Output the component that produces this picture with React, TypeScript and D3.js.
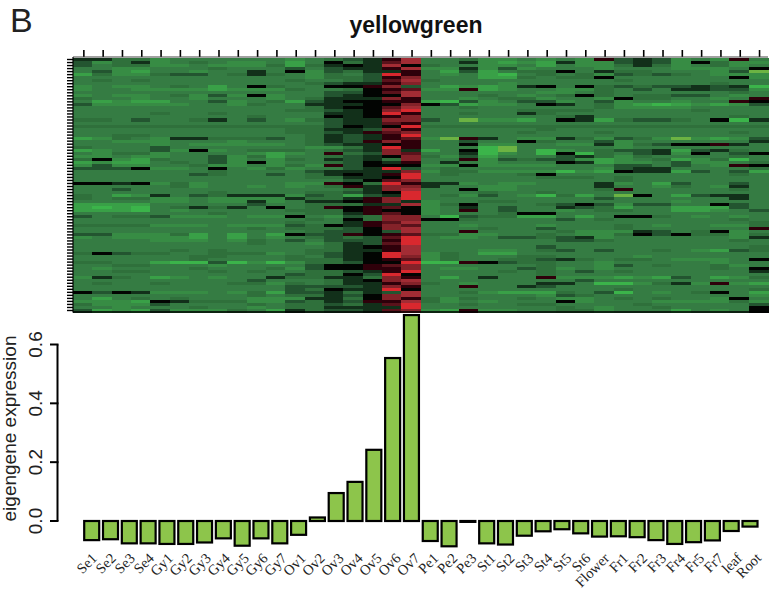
import React from "react";
import * as d3 from "d3";

const categories = ["Se1","Se2","Se3","Se4","Gy1","Gy2","Gy3","Gy4","Gy5","Gy6","Gy7","Ov1","Ov2","Ov3","Ov4","Ov5","Ov6","Ov7","Pe1","Pe2","Pe3","St1","St2","St3","St4","St5","St6","Flower","Fr1","Fr2","Fr3","Fr4","Fr5","Fr7","leaf","Root"];
const eigengene = [-0.065,-0.062,-0.076,-0.076,-0.078,-0.078,-0.073,-0.059,-0.084,-0.059,-0.076,-0.047,0.012,0.095,0.133,0.242,0.554,0.70,-0.068,-0.086,-0.003,-0.076,-0.08,-0.05,-0.035,-0.028,-0.042,-0.053,-0.052,-0.055,-0.065,-0.078,-0.072,-0.066,-0.034,-0.019];
const yTicks = [0, 0.2, 0.4, 0.6];

// heat levels per row, one character per sample
const heatLeft = ["113354444445","253154345546","243355455536","445544434442","425644544140","635532243134","444444444444","434344444443","444444444444","545543464034","544555565553","444444444444","545543525054","344544544454","465664425436","255555445344","444444444444","444444444443","444434434444","444444444344","334244314245","444444444444","333333333333","444444444443","444444444443","443344444444","653451133324","445554445444","444454555554","344424444444","654425054333","453354444565","554554425364","305634425453","656643425054","525544355453","222055404535","444444434444","444444234424","444444444444","444444444444","001053544445","444443544545","442444444444","444444434444","346514231115","343355455551","444455455154","666644444244","676743131404","666745444443","444444434444","243325554550","444444444444","444444444443","333355545552","444444444343","444444444444","225553646460","545555646454","444455545342","444444444344","444444444444","444443434444","302334433354","444444334443","444444344443","334467727575","443344454444","454444344435","443344434344","444444444442","513465454413","444444444244","434434443353","444444444442","444444444442","020155545362","444444444343","464343444555","555601333552","355524444343","445444344543","265625553461"];
const heatMiddle = ["4321ad443554","4031bd441565","3101d0344554","4211ad551525","52311a462643","5342ea454674","5332ac444663","4432bd344444","3211ac444454","400ac2465651","4430ab55a654","4220bd444444","42100d444345","3111ca445433","2100aa672542","11100c026554","3100bd443444","3210ce444443","4110ea443441","4010ac444444","3211cc248556","4211ba444444","32010e333333","3112ca444444","321abc444443","3121ae444444","3121ab58a145","312aca442440","32110a440554","5531ea444784","4321c1640784","4a32cb441754","43210c352644","41213c44a523","43201a414544","5a2000550555","4421e2434444","21111c533555","3101ae434443","33110e444444","4420bc444444","5a03ea115455","43a1cc144554","4431cd440554","33210e444344","23621e435245","331ace444444","110ac1544334","33311d530444","3a0ab0541424","330a0054a424","331ab0544430","4523cc472336","3403cc003444","441abd444444","301acb445444","3320cd444344","32202d44a444","22a0ab335544","3232be455422","4222ae444444","5312be444444","4310ad444444","3311ad444554","3210ed534664","4210ec534443","3310ab534433","33200e77a023","200abc444444","200aac455442","3321ae444434","3302e0444444","3113ca464144","4310cd444444","4311ac345444","2221ca44a441","3011e0444444","21312d443566","3120cd444444","1130ca353443","312aad354544","3231be443443","31111e444444","3221bc56a554"];
const heatRight = ["545a212545a4","615521250355","645531354354","444544455540","304133444528","343523234555","433044444405","444434444444","444444444344","040323221217","455342411225","554344444434","430343322454","54450334454a","2542544544a0","014356765652","444355554444","333444443444","344444444444","431444444434","401632234071","444444444444","333333333333","344444444444","444344444434","444444444444","513523585652","344254444441","455153200a14","444454444444","754322162134","707342150420","421353444434","225654365374","401655425543","5444224245a0","444521144443","575601162426","044444444434","333434444444","444434444444","444154624424","444144534514","4443a4444434","344444444444","736480462114","444244444414","444444454444","320252244024","412364466624","454334466542","044444444444","646400345454","424344444434","444444444443","544434544553","24443444444a","435551243054","345530203353","321544444451","422344444434","444444444444","244444444443","324244345623","444444444444","344445444444","213433455540","344544444544","344524344354","354544444340","342434444441","344444444444","a55565624653","442444444444","114775315a56","244444444444","444434444443","634274543046","523444444445","455434344504","405444555535","344443444442","434544344440","433544464540"];

const levelColors: Record<string, string> = {
  "0": "#020402", "1": "#12301a", "2": "#235530", "3": "#2f703b", "4": "#357c43", "5": "#378c44", "6": "#39a047", "7": "#3bb44a", "8": "#6cb343",
  a: "#2e000a", b: "#5a121b", c: "#842229", d: "#a22c34", e: "#d9282e",
};

const W = 776, H = 594;
const heatX = d3.scaleBand<number>().domain(d3.range(36)).range([73, 768]);
const heatY = d3.scaleBand<number>().domain(d3.range(heatLeft.length)).range([58, 312]);
const y = d3.scaleLinear().domain([0, 0.6]).range([521, 344.5]);
const barX = d3.scalePoint<number>().domain(d3.range(36)).range([91.7, 750]);
const labelX = d3.scalePoint<number>().domain(d3.range(36)).range([98, 762]);

export default function App() {
  const rows = heatLeft.map((l, i) => l + heatMiddle[i] + heatRight[i]);
  return (
    <svg width={W} height={H} viewBox={`0 0 ${W} ${H}`} style={{ position: "absolute", left: 0, top: 0, background: "#fff" }}>
      <text x={10} y={32} fontFamily="Liberation Sans" fontSize={34} fill="#222">B</text>
      <text x={416} y={33} textAnchor="middle" fontFamily="Liberation Sans" fontWeight="bold" fontSize={23} fill="#111">yellowgreen</text>

      <g shapeRendering="crispEdges">
        {rows.map((row, r) =>
          row.split("").map((ch, c) => (
            <rect key={`${r}-${c}`} x={heatX(c)} y={heatY(r)} width={heatX.bandwidth() + 0.5} height={heatY.bandwidth() + 0.5} fill={levelColors[ch]} />
          ))
        )}
      </g>
      {categories.map((_, c) => (
        <line key={c} x1={heatX(c)! + heatX.bandwidth() / 2 + 1.2} x2={heatX(c)! + heatX.bandwidth() / 2 + 1.2} y1={50} y2={57} stroke="#000" strokeWidth={1.6} />
      ))}
      {rows.map((_, r) => (
        <line key={r} x1={67} x2={73} y1={heatY(r)! + heatY.bandwidth() / 2} y2={heatY(r)! + heatY.bandwidth() / 2} stroke="#000" strokeWidth={1.4} />
      ))}
      <line x1={73} x2={768} y1={57} y2={57} stroke="#444" strokeWidth={1.2} />
      <line x1={73} x2={768} y1={312} y2={312} stroke="#000" strokeWidth={1.4} />
      <line x1={73} x2={73} y1={57} y2={312.5} stroke="#000" strokeWidth={1.2} />

      <line x1={57.5} x2={57.5} y1={y(0.6)} y2={y(0)} stroke="#000" strokeWidth={2} />
      {yTicks.map((t) => (
        <g key={t}>
          <line x1={50} x2={58.5} y1={y(t)} y2={y(t)} stroke="#000" strokeWidth={2} />
          <text transform={`translate(42 ${y(t)}) rotate(-90)`} textAnchor="middle" fontFamily="Liberation Sans" fontSize={19} fill="#222">{t.toFixed(1)}</text>
        </g>
      ))}
      <text transform="translate(15.5 428.5) rotate(-90)" textAnchor="middle" fontFamily="Liberation Sans" fontSize={19} fill="#222">eigengene expression</text>

      {eigengene.map((v, i) => {
        const bw = 15;
        const x0 = barX(i)! - bw / 2;
        const top = Math.min(y(v), y(0));
        const h = Math.abs(y(v) - y(0));
        return <rect key={i} x={x0} y={top} width={bw} height={h} fill="#8dc54b" stroke="#000" strokeWidth={2.2} />;
      })}
      {categories.map((cat, i) => (
        <text key={cat} transform={`translate(${labelX(i)} 559) rotate(-45)`} textAnchor="end" fontFamily="Liberation Serif" fontSize={14.5} fill="#222">{cat}</text>
      ))}
    </svg>
  );
}
